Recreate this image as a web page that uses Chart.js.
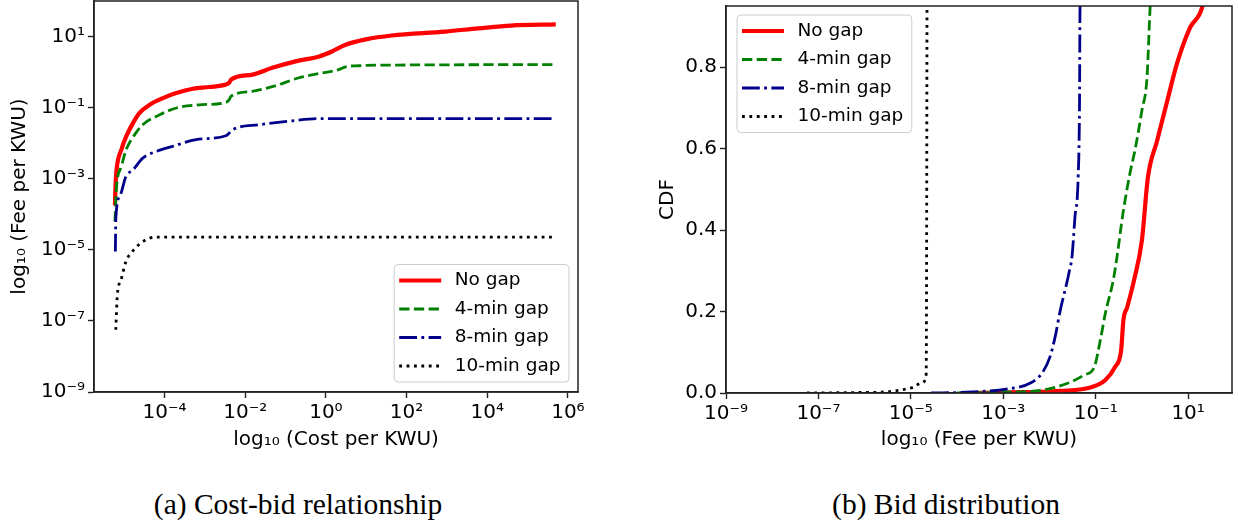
<!DOCTYPE html>
<html>
<head>
<meta charset="utf-8">
<script src="https://cdn.jsdelivr.net/npm/chart.js@4.4.1/dist/chart.umd.min.js"></script>
<style>
  body { margin: 0; background: #fff; width: 1238px; height: 523px; overflow: hidden; position: relative; }
  .box { position: absolute; top: 0; height: 470px; }
  #leftBox { left: 0; width: 610px; }
  #rightBox { left: 620px; width: 618px; }
  .caption { position: absolute; top: 489px; font-family: "Liberation Serif", serif; font-size: 29.5px; line-height: 30px;
             transform: translateX(-50%); white-space: nowrap; color: #000; }
</style>
</head>
<body>
<div class="box" id="leftBox"><canvas id="costChart"></canvas></div>
<div class="box" id="rightBox"><canvas id="cdfChart"></canvas></div>
<div class="caption" style="left:298px">(a) Cost-bid relationship</div>
<div class="caption" style="left:946px">(b) Bid distribution</div>
<script>
// series names, shared by both panels
const seriesLabels = ['No gap', '4-min gap', '8-min gap', '10-min gap'];

// (a) cost per KWU vs. fee per KWU
const costNoGap = [5.89e-6, 6.03e-6, 6.46e-6, 8.51e-6, 1.12e-5, 1.66e-5, 2.40e-5, 4.27e-5, 9.12e-5, 1.95e-4, 5.01e-4, 1.29e-3, 3.31e-3, 3.98e-3, 4.47e-3, 1.51e-2, 4.68e-2, 0.178, 0.676, 1.41, 3.09, 9.77, 42.7, 912, 6030, 3.89e4, 5.01e5];
const feeNoGap = [1.78e-4, 5.0e-4, 1.78e-3, 6.61e-3, 1.55e-2, 3.72e-2, 7.08e-2, 0.120, 0.186, 0.257, 0.339, 0.380, 0.447, 0.501, 0.617, 0.851, 1.32, 2.0, 2.75, 3.80, 5.89, 8.32, 10.7, 13.8, 17.0, 20.4, 21.9];
const cost4Min = [5.89e-6, 6.17e-6, 6.46e-6, 8.51e-6, 1.12e-5, 1.82e-5, 2.88e-5, 7.59e-5, 1.95e-4, 7.24e-4, 3.31e-3, 3.98e-3, 4.47e-3, 1.51e-2, 5.75e-2, 0.214, 0.676, 2.09, 3.09, 6.46, 63.1, 5.01e5];
const fee4Min = [6.31e-5, 2.51e-4, 6.31e-4, 2.24e-3, 6.61e-3, 1.74e-2, 3.31e-2, 6.31e-2, 9.77e-2, 0.120, 0.141, 0.166, 0.209, 0.288, 0.417, 0.692, 0.912, 1.17, 1.41, 1.51, 1.58, 1.62];
const cost8Min = [6.03e-6, 6.17e-6, 7.76e-6, 1.10e-5, 1.66e-5, 2.88e-5, 6.31e-5, 1.58e-4, 6.03e-4, 3.31e-3, 3.98e-3, 4.90e-3, 2.24e-2, 0.148, 0.676, 5.01e5];
const fee8Min = [8.91e-6, 7.08e-5, 3.16e-4, 1.15e-3, 1.78e-3, 3.80e-3, 5.89e-3, 8.13e-3, 1.26e-2, 1.62e-2, 1.91e-2, 2.40e-2, 3.31e-2, 4.27e-2, 4.90e-2, 4.90e-2];
const cost10Min = [6.17e-6, 6.76e-6, 8.32e-6, 1.10e-5, 1.58e-5, 2.57e-5, 4.37e-5, 6.03e-5, 4.27e5];
const fee10Min = [5.62e-8, 5.37e-7, 1.41e-6, 4.68e-6, 8.91e-6, 1.55e-5, 2.14e-5, 2.29e-5, 2.29e-5];

// (b) CDF of the fee per KWU
const cdfFeeNoGap = [1.58e-4, 2.51e-3, 1.78e-2, 8.32e-2, 0.162, 0.263, 0.355, 0.398, 0.479, 0.676, 1.0, 1.35, 2.14, 3.55, 5.75, 11.0, 20.0, 21.9];
const cdfNoGap = [0, 0.002, 0.005, 0.015, 0.032, 0.064, 0.105, 0.179, 0.21, 0.277, 0.375, 0.53, 0.62, 0.718, 0.809, 0.897, 0.946, 0.97];
const cdfFee4Min = [1.0e-4, 1.05e-3, 6.92e-3, 2.63e-2, 5.62e-2, 9.33e-2, 0.126, 0.162, 0.240, 0.288, 0.389, 0.550, 0.708, 1.0, 1.29, 1.51, 1.62];
const cdf4Min = [0, 0.002, 0.007, 0.025, 0.044, 0.064, 0.13, 0.196, 0.277, 0.333, 0.441, 0.539, 0.596, 0.694, 0.775, 0.95, 1.0];
const cdfFee8Min = [2.75e-5, 1.55e-4, 1.26e-3, 3.98e-3, 6.92e-3, 1.02e-2, 1.38e-2, 1.66e-2, 2.63e-2, 3.09e-2, 3.55e-2, 4.17e-2, 4.47e-2, 4.57e-2, 4.90e-2];
const cdf8Min = [0, 0.002, 0.01, 0.025, 0.049, 0.088, 0.147, 0.196, 0.294, 0.338, 0.431, 0.53, 0.718, 0.939, 1.0];
const cdfFee10Min = [5.62e-8, 5.01e-7, 3.16e-6, 5.89e-6, 1.12e-5, 1.66e-5, 2.14e-5, 2.19e-5, 2.24e-5];
const cdf10Min = [0, 0.001, 0.003, 0.007, 0.014, 0.024, 0.04, 0.3, 1.0];

// tick values and labels
const costTickValues = [1e-4, 1e-2, 1e0, 1e2, 1e4, 1e6];
const costTickLabels = ['10⁻⁴', '10⁻²', '10⁰', '10²', '10⁴', '10⁶'];
const feeTickValues = [1e-9, 1e-7, 1e-5, 1e-3, 1e-1, 1e1];
const feeTickLabels = ['10⁻⁹', '10⁻⁷', '10⁻⁵', '10⁻³', '10⁻¹', '10¹'];
const cdfTickValues = [0, 0.2, 0.4, 0.6, 0.8];
const cdfTickLabels = ['0.0', '0.2', '0.4', '0.6', '0.8'];

const AXIS_PX = 20;
const LEGEND_PX = 18.5;
Chart.defaults.font.family = '"DejaVu Sans", sans-serif';
Chart.defaults.font.size = AXIS_PX;
Chart.defaults.color = '#000';

// line look per series (matplotlib-like)
const lineLook = [
    { borderColor: '#ff0000', borderWidth: 4.2, borderDash: [] },
    { borderColor: '#008000', borderWidth: 2.8, borderDash: [10.3, 4.4] },
    { borderColor: '#00008b', borderWidth: 2.8, borderDash: [17.8, 4.4, 2.8, 4.4] },
    { borderColor: '#000000', borderWidth: 2.8, borderDash: [2.8, 4.6] }
];

const pts = (xs, ys) => xs.map((x, i) => ({ x, y: ys[i] }));

const makeDatasets = (pairs) => pairs.map(([xs, ys], i) => ({
    label: seriesLabels[i],
    data: pts(xs, ys),
    ...lineLook[i],
    borderCapStyle: 'butt',
    pointRadius: 0,
    fill: false,
    cubicInterpolationMode: 'monotone',
    clip: 0,
    order: 4 - i
}));

const fixTicks = (values) => (scale) => { scale.ticks = values.map(v => ({ value: v })); };
const fixBox = (size) => (scale) => {
    if (scale.isHorizontal()) scale.height = size; else scale.width = size;
    scale.paddingTop = scale.paddingBottom = scale.paddingLeft = scale.paddingRight = 0;
};

const tickLook = { autoSkip: false, maxRotation: 0, minRotation: 0, padding: 3, color: '#000', font: { size: AXIS_PX } };

const axisLook = (title, titlePad) => ({
    border: { display: true, color: '#222', width: 1.5 },
    grid: { display: true, drawOnChartArea: false, drawTicks: true, tickLength: 6, tickWidth: 1.4, tickColor: '#222' },
    title: { display: true, text: title, color: '#000', font: { size: AXIS_PX }, padding: titlePad }
});

// frame (top/right spines) and an in-axes legend
const framePlugin = {
    id: 'frameAndLegend',
    afterDatasetsDraw(chart, args, opts) {
        const { ctx, chartArea: a } = chart;
        ctx.save();
        ctx.strokeStyle = '#222';
        ctx.lineWidth = 1.5;
        ctx.strokeRect(a.left, a.top, a.right - a.left, a.bottom - a.top);

        ctx.font = LEGEND_PX + 'px "DejaVu Sans"';
        const sets = chart.data.datasets;
        const textW = Math.max(...sets.map(d => ctx.measureText(d.label).width));
        const w = 60.5 + textW + 8.5;
        const h = 16 + 28.5 * (sets.length - 1) + 16;
        const x = opts.corner === 'lowerRight' ? a.right - 9 - w : a.left + 11;
        const y = opts.corner === 'lowerRight' ? a.bottom - 10 - h : a.top + 9;

        ctx.beginPath();
        ctx.roundRect(x, y, w, h, 4);
        ctx.fillStyle = 'rgba(255,255,255,0.8)';
        ctx.fill();
        ctx.strokeStyle = '#cccccc';
        ctx.lineWidth = 1;
        ctx.stroke();

        sets.forEach((d, i) => {
            const cy = y + 16 + i * 28.5;
            ctx.beginPath();
            ctx.setLineDash(d.borderDash);
            ctx.lineCap = 'butt';
            ctx.strokeStyle = d.borderColor;
            ctx.lineWidth = d.borderWidth;
            ctx.moveTo(x + 5, cy);
            ctx.lineTo(x + 47, cy);
            ctx.stroke();
            ctx.setLineDash([]);
            ctx.fillStyle = '#000';
            ctx.textBaseline = 'middle';
            ctx.textAlign = 'left';
            ctx.fillText(d.label, x + 60.5, cy);
        });
        ctx.restore();
    }
};

const common = {
    responsive: true,
    maintainAspectRatio: false,
    animation: false,
    devicePixelRatio: 1,
    events: []
};

new Chart(document.getElementById('costChart'), {
    type: 'line',
    data: {
        datasets: makeDatasets([[costNoGap, feeNoGap], [cost4Min, fee4Min], [cost8Min, fee8Min], [cost10Min, fee10Min]])
    },
    options: {
        ...common,
        layout: { autoPadding: false, padding: { left: 0, top: 1, right: 32, bottom: 0 } },
        plugins: { legend: { display: false }, tooltip: { enabled: false }, frameAndLegend: { corner: 'lowerRight' } },
        scales: {
            x: {
                type: 'logarithmic', min: 1.78e-6, max: 1.78e6,
                ...axisLook('log₁₀ (Cost per KWU)', { bottom: 18 }),
                afterBuildTicks: fixTicks(costTickValues),
                afterFit: fixBox(78),
                ticks: { ...tickLook, callback: (v, i) => costTickLabels[i] }
            },
            y: {
                type: 'logarithmic', min: 1e-9, max: 1e2,
                ...axisLook('log₁₀ (Fee per KWU)', { top: 8 }),
                afterBuildTicks: fixTicks(feeTickValues),
                afterFit: fixBox(94),
                ticks: { ...tickLook, callback: (v, i) => feeTickLabels[i] }
            }
        }
    },
    plugins: [framePlugin]
});

new Chart(document.getElementById('cdfChart'), {
    type: 'line',
    data: {
        datasets: makeDatasets([[cdfFeeNoGap, cdfNoGap], [cdfFee4Min, cdf4Min], [cdfFee8Min, cdf8Min], [cdfFee10Min, cdf10Min]])
    },
    options: {
        ...common,
        layout: { autoPadding: false, padding: { left: 0, top: 6, right: 6, bottom: 0 } },
        plugins: { legend: { display: false }, tooltip: { enabled: false }, frameAndLegend: { corner: 'upperLeft' } },
        scales: {
            x: {
                type: 'logarithmic', min: 1e-9, max: 89,
                ...axisLook('log₁₀ (Fee per KWU)', { bottom: 18 }),
                afterBuildTicks: fixTicks(feeTickValues),
                afterFit: fixBox(77),
                ticks: { ...tickLook, callback: (v, i) => feeTickLabels[i] }
            },
            y: {
                type: 'linear', min: 0, max: 0.95,
                ...axisLook('CDF', { top: 36 }),
                afterBuildTicks: fixTicks(cdfTickValues),
                afterFit: fixBox(106),
                ticks: { ...tickLook, callback: (v, i) => cdfTickLabels[i] }
            }
        }
    },
    plugins: [framePlugin]
});
</script>
</body>
</html>
